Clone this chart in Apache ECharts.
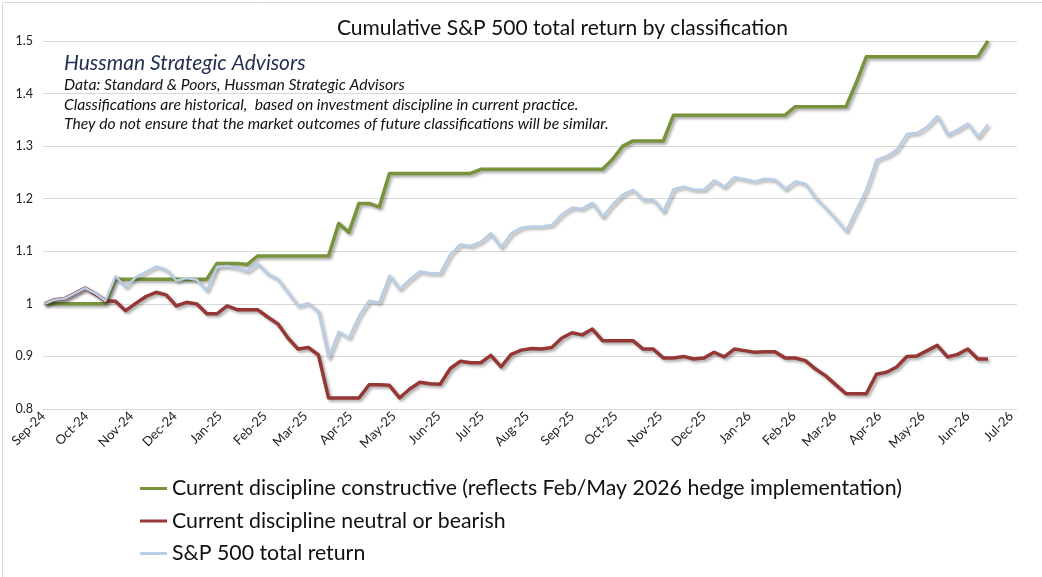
<!DOCTYPE html>
<html>
<head>
<meta charset="utf-8">
<script src="https://cdn.jsdelivr.net/npm/echarts@6/dist/echarts.min.js"></script>
<style>
html,body{margin:0;padding:0;background:#fff;}
#chart{width:1042px;height:577px;}
</style>
</head>
<body>
<div id="chart"></div>
<script>
// Weekly observation dates
const dates = [
'2024-09-02','2024-09-09','2024-09-16','2024-09-23','2024-09-30',
'2024-10-07','2024-10-14','2024-10-21','2024-10-28',
'2024-11-04','2024-11-11','2024-11-18','2024-11-25',
'2024-12-02','2024-12-09','2024-12-16','2024-12-23','2024-12-30',
'2025-01-06','2025-01-13','2025-01-20','2025-01-27',
'2025-02-03','2025-02-10','2025-02-17','2025-02-24',
'2025-03-03','2025-03-10','2025-03-17','2025-03-24','2025-03-31',
'2025-04-07','2025-04-14','2025-04-21','2025-04-28',
'2025-05-05','2025-05-12','2025-05-19','2025-05-26',
'2025-06-02','2025-06-09','2025-06-16','2025-06-23','2025-06-30',
'2025-07-07','2025-07-14','2025-07-21','2025-07-28',
'2025-08-04','2025-08-11','2025-08-18','2025-08-25',
'2025-09-01','2025-09-08','2025-09-15','2025-09-22','2025-09-29',
'2025-10-06','2025-10-13','2025-10-20','2025-10-27',
'2025-11-03','2025-11-10','2025-11-17','2025-11-24',
'2025-12-01','2025-12-08','2025-12-15','2025-12-22','2025-12-29',
'2026-01-05','2026-01-12','2026-01-19','2026-01-26',
'2026-02-02','2026-02-09','2026-02-16','2026-02-23',
'2026-03-02','2026-03-09','2026-03-16','2026-03-23','2026-03-30',
'2026-04-06','2026-04-13','2026-04-20','2026-04-27',
'2026-05-04','2026-05-11','2026-05-18','2026-05-25',
'2026-06-01','2026-06-08','2026-06-15'
];

const constructive = [
1.000,1.000,1.000,1.000,1.000,1.000,1.000,
1.047,1.047,1.047,1.047,1.047,1.047,1.047,1.047,1.047,1.047,
1.077,1.077,1.077,1.075,
1.091,1.091,1.091,1.091,1.091,1.091,1.091,1.091,
1.153,1.136,1.191,1.191,1.184,
1.248,1.248,1.248,1.248,1.248,1.248,1.248,1.248,1.248,
1.256,1.256,1.256,1.256,1.256,1.256,1.256,1.256,1.256,1.256,1.256,1.256,1.256,
1.275,1.300,
1.310,1.310,1.310,1.310,
1.359,1.359,1.359,1.359,1.359,1.359,1.359,1.359,1.359,1.359,1.359,1.359,
1.375,1.375,1.375,1.375,1.375,1.375,
1.420,
1.470,1.470,1.470,1.470,1.470,1.470,1.470,1.470,1.470,1.470,1.470,1.470,
1.500
];

const neutralBearish = [
1.000,1.008,1.010,1.020,1.030,1.019,1.006,
1.005,0.987,1.001,1.014,1.022,1.017,0.996,1.003,1.000,0.981,
0.981,0.996,0.989,0.989,
0.989,0.975,0.962,0.935,0.914,0.917,0.903,0.821,
0.821,0.821,0.821,0.846,0.846,
0.845,0.821,0.838,0.851,0.848,0.847,0.877,0.891,0.888,
0.888,0.902,0.880,0.904,0.912,0.915,0.914,0.917,0.935,0.945,0.941,0.952,0.930,
0.930,0.930,
0.930,0.914,0.914,0.897,
0.897,0.900,0.895,0.897,0.908,0.899,0.914,0.911,0.908,0.909,0.909,0.897,
0.897,0.892,0.876,0.863,0.846,0.829,
0.829,
0.829,0.866,0.870,0.880,0.900,0.901,0.911,0.921,0.899,0.904,0.914,0.895,
0.895
];

const sp500 = [
1.000,1.008,1.010,1.020,1.030,1.020,1.006,
1.053,1.032,1.051,1.061,1.071,1.065,1.044,1.049,1.046,1.025,
1.070,1.072,1.068,1.062,
1.077,1.057,1.047,1.021,0.996,1.001,0.985,0.897,
0.947,0.935,0.977,1.006,1.002,
1.054,1.028,1.046,1.062,1.058,1.058,1.094,1.113,1.110,
1.118,1.134,1.107,1.134,1.145,1.147,1.147,1.150,1.170,1.183,1.181,1.192,1.165,
1.189,1.208,
1.217,1.198,1.198,1.175,
1.218,1.223,1.217,1.217,1.235,1.222,1.241,1.237,1.233,1.238,1.236,1.218,
1.233,1.228,1.201,1.182,1.161,1.138,
1.178,
1.217,1.274,1.281,1.293,1.323,1.325,1.337,1.357,1.322,1.331,1.343,1.317,
1.341
];

const tickDates = [
'2024-09-01','2024-10-01','2024-11-01','2024-12-01','2025-01-01','2025-02-01',
'2025-03-01','2025-04-01','2025-05-01','2025-06-01','2025-07-01','2025-08-01',
'2025-09-01','2025-10-01','2025-11-01','2025-12-01','2026-01-01','2026-02-01',
'2026-03-01','2026-04-01','2026-05-01','2026-06-01','2026-07-01'
];
const tickLabels = [
'Sep-24','Oct-24','Nov-24','Dec-24','Jan-25','Feb-25','Mar-25','Apr-25',
'May-25','Jun-25','Jul-25','Aug-25','Sep-25','Oct-25','Nov-25','Dec-25',
'Jan-26','Feb-26','Mar-26','Apr-26','May-26','Jun-26','Jul-26'
];
const axisStart = '2024-09-01';
const axisEnd = '2026-07-05';

const seriesNames = [
'Current discipline constructive (reflects Feb/May 2026 hedge implementation)',
'Current discipline neutral or bearish',
'S&P 500 total return'
];

const noteLines = [
'Data: Standard & Poors, Hussman Strategic Advisors',
'Classifications are historical,  based on investment discipline in current practice.',
'They do not ensure that the market outcomes of future classifications will be similar.'
];

function ts(d) { return Date.parse(d + 'T00:00:00Z'); }
const tickTimes = tickDates.map(ts);
function pairs(vals) { return dates.map((d, i) => [ts(d), vals[i]]); }

const shadow = {shadowColor:'rgba(0,0,0,0.35)', shadowBlur:3, shadowOffsetX:2, shadowOffsetY:2};

const chart = echarts.init(document.getElementById('chart'), null, {renderer:'canvas'});
chart.setOption({
  animation: false,
  backgroundColor: '#fff',
  title: {
    text: 'Cumulative S&P 500 total return by classification',
    left: 332, top: 13,
    textStyle: {fontFamily:'Lato', fontSize:21, fontWeight:'normal', color:'#111'}
  },
  grid: {left:43, right:25, top:41, bottom:168, containLabel:false},
  xAxis: {
    type: 'value',
    min: ts(axisStart),
    max: ts(axisEnd),
    axisLine: {show:false},
    axisTick: {show:false},
    splitLine: {show:false},
    axisLabel: {
      customValues: tickTimes,
      rotate: 45,
      margin: 5,
      fontFamily: 'Lato',
      fontSize: 13,
      color: '#222',
      formatter: function (v) {
        const k = tickTimes.indexOf(+v);
        return k >= 0 ? tickLabels[k] : '';
      }
    }
  },
  yAxis: {
    type: 'value',
    min: 0.8, max: 1.5, interval: 0.1,
    axisLine: {show:false},
    axisTick: {show:false},
    splitLine: {lineStyle:{color:'#d9d9d9', width:1}},
    axisLabel: {fontFamily:'Lato', fontSize:12.5, color:'#222', margin:10}
  },
  legend: {
    orient: 'vertical',
    left: 135, top: 472,
    icon: 'rect',
    itemWidth: 27, itemHeight: 3,
    itemGap: 9.5,
    textStyle: {fontFamily:'Lato', fontSize:21.3, color:'#111', lineHeight:23},
    data: seriesNames
  },
  series: [
    {name: seriesNames[0], type:'line', data: pairs(constructive), showSymbol:false, symbol:'none',
     color:'#77933C', lineStyle:Object.assign({width:3.5, color:'#77933C', join:'round'}, shadow)},
    {name: seriesNames[1], type:'line', data: pairs(neutralBearish), showSymbol:false, symbol:'none',
     color:'#953735', lineStyle:Object.assign({width:3.5, color:'#953735', join:'round'}, shadow)},
    {name: seriesNames[2], type:'line', data: pairs(sp500), showSymbol:false, symbol:'none',
     color:'#B9CDE5', lineStyle:Object.assign({width:2.5, color:'#B9CDE5', join:'round'}, shadow)}
  ],
  graphic: [
    {type:'rect', left:0, top:0, silent:true,
     shape:{x:0.5, y:0.5, width:1041, height:576},
     style:{fill:'none', stroke:'#d9d9d9', lineWidth:1}},
    {type:'text', left:64, top:52.5,
     style:{text:'Hussman Strategic Advisors', font:'italic 21px Lato', fill:'#1f2f4f'}},
    {type:'text', left:64, top:77,
     style:{text:noteLines[0], font:'italic 15.7px Lato', fill:'#111'}},
    {type:'text', left:64, top:97,
     style:{text:noteLines[1], font:'italic 15.7px Lato', fill:'#111'}},
    {type:'text', left:64, top:116,
     style:{text:noteLines[2], font:'italic 15.7px Lato', fill:'#111'}}
  ]
});
</script>
</body>
</html>
